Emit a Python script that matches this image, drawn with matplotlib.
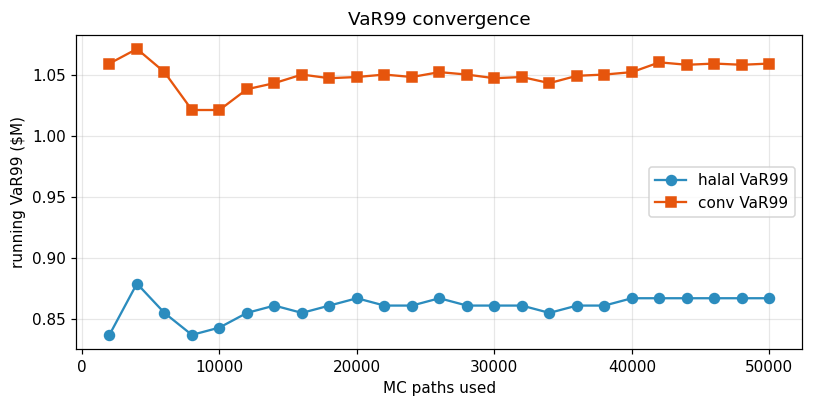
import matplotlib
matplotlib.use("Agg")
import matplotlib.pyplot as plt

paths = [2000, 4000, 6000, 8000, 10000, 12000, 14000, 16000, 18000, 20000,
         22000, 24000, 26000, 28000, 30000, 32000, 34000, 36000, 38000, 40000,
         42000, 44000, 46000, 48000, 50000]
halal = [0.837, 0.879, 0.855, 0.837, 0.843, 0.855, 0.861, 0.855, 0.861, 0.867,
         0.861, 0.861, 0.867, 0.861, 0.861, 0.861, 0.855, 0.861, 0.861, 0.867,
         0.867, 0.867, 0.867, 0.867, 0.867]
conv = [1.059, 1.071, 1.052, 1.021, 1.021, 1.038, 1.043, 1.050, 1.047, 1.048,
        1.050, 1.048, 1.052, 1.050, 1.047, 1.048, 1.043, 1.049, 1.050, 1.052,
        1.060, 1.058, 1.059, 1.058, 1.059]

DPI = 110
fig, ax = plt.subplots(figsize=(813 / DPI, 407 / DPI), dpi=DPI)
ax.plot(paths, halal, marker="o", markersize=6.5, color="#2b8cbe", label="halal VaR99")
ax.plot(paths, conv, marker="s", markersize=6.5, color="#e6550d", label="conv VaR99")
ax.set_title("VaR99 convergence")
ax.set_xlabel("MC paths used")
ax.set_ylabel("running VaR99 ($M)")
ax.grid(True, alpha=0.3)
ax.legend(loc="center right")
fig.subplots_adjust(left=0.094, right=0.987, top=0.915, bottom=0.142)
fig.savefig("out.png", dpi=DPI)
